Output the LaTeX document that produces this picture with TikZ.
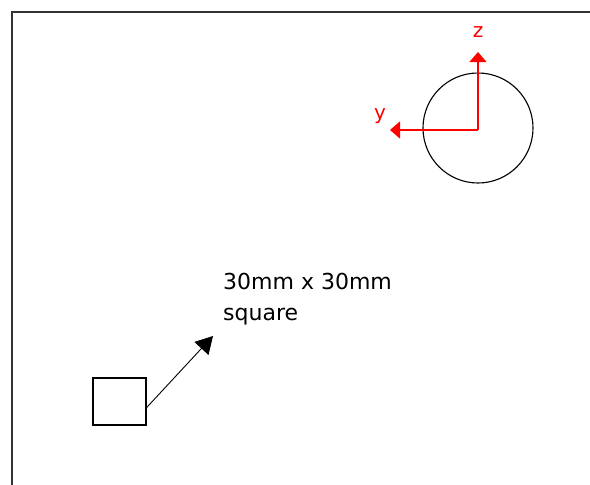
\documentclass[tikz,border=0pt]{standalone}
\usepackage{fontspec}
\setmainfont{DejaVu Sans}
\usetikzlibrary{arrows.meta}
\begin{document}
\begin{tikzpicture}[x=1pt,y=-1pt,
  frame/.style={line width=1.6pt,draw=black!80},
  axis/.style={red,line width=1.2pt,-{Triangle[length=10pt,width=17pt]}},
  lbl/.style={font=\fontsize{22}{31}\selectfont,inner sep=0pt},
  axlbl/.style={font=\fontsize{20}{24}\selectfont,text=red,inner sep=0pt}]
\useasboundingbox (0,0) rectangle (590,485);
\fill[white] (0,0) rectangle (590,485);
\draw[frame] (12,485) -- (12,12) -- (590,12);
% circle with axes
\node[circle,draw,line width=1.1pt,minimum size=110pt,inner sep=0pt] (c) at (478,128) {};
\coordinate (o) at (478,130);
\coordinate (zt) at (478,52);
\coordinate (yt) at (390,130);
\draw[axis] (o) -- (zt);
\draw[axis] (o) -- (yt);
\node[axlbl] (zl) at (478,32) {z};
\node[axlbl,anchor=base] (yl) at (380,119) {y};
% square and pointer
\node[draw,line width=1.4pt,minimum width=53pt,minimum height=47pt,inner sep=0pt] (sq) at (119.5,401.5) {};
\coordinate (ps) at ([yshift=-6pt]sq.east);
\coordinate (pt) at (213,336);
\draw[line width=0.9pt,-{Triangle[length=17pt,width=19pt]}] (ps) -- (pt);
\node[lbl,anchor=base west,align=left] (tx) at (223,320) {30mm x 30mm\\square};
\end{tikzpicture}
\end{document}
